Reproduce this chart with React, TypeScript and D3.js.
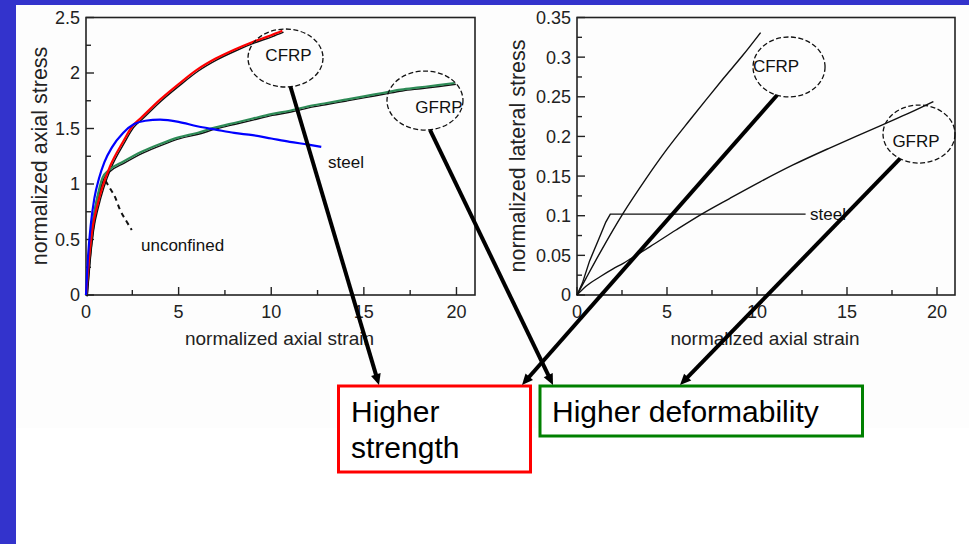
import React from "react";
import * as d3 from "d3";

const W = 969;
const H = 544;
const FONT = "'Liberation Sans', Arial, Helvetica, sans-serif";
const SLIDE_BLUE = "#3333cc";

type Pt = [number, number];

// ---- Left panel: normalized axial stress vs normalized axial strain ----
const cfrpAxial: Pt[] = [
  [0, 0], [0.15, 0.3], [0.35, 0.6], [0.6, 0.8], [0.9, 0.98], [1.3, 1.16], [2, 1.38],
  [2.5, 1.52], [3, 1.6], [4, 1.76], [5, 1.9], [6, 2.03], [7, 2.13], [8, 2.21],
  [9, 2.28], [10, 2.34], [10.6, 2.38],
];
const gfrpAxial: Pt[] = [
  [0, 0], [0.15, 0.32], [0.35, 0.62], [0.6, 0.87], [0.9, 1.06], [1.2, 1.12], [2, 1.2],
  [3, 1.29], [4, 1.36], [5, 1.42], [6, 1.46], [7, 1.51], [8, 1.55], [9, 1.59],
  [10, 1.63], [11, 1.66], [12, 1.7], [13, 1.73], [14, 1.76], [15, 1.79], [16, 1.82],
  [17, 1.85], [18, 1.87], [19, 1.89], [19.9, 1.91],
];
const steelAxial: Pt[] = [
  [0, 0], [0.1, 0.32], [0.25, 0.62], [0.45, 0.87], [0.7, 1.05], [1, 1.2], [1.4, 1.33],
  [2, 1.46], [2.6, 1.54], [3.2, 1.57], [4, 1.58], [5, 1.56], [6, 1.52], [7, 1.49],
  [8, 1.46], [9, 1.44], [10, 1.41], [11, 1.38], [12, 1.355], [12.7, 1.335],
];
const unconfinedRise: Pt[] = [[0, 0], [0.2, 0.42], [0.5, 0.8], [0.8, 0.98], [1.05, 1.03]];
const unconfinedFall: Pt[] = [[1.05, 1.03], [1.3, 0.96], [1.56, 0.886], [1.83, 0.77], [2.2, 0.66], [2.47, 0.585]];

// ---- Right panel: normalized lateral stress vs normalized axial strain ----
const cfrpLateral: Pt[] = [
  [0, 0], [0.5, 0.021], [1.37, 0.057], [2.56, 0.103], [3.78, 0.145], [5, 0.184],
  [6.28, 0.221], [7.2, 0.247], [8.13, 0.273], [9.2, 0.302], [10.2, 0.331],
];
const gfrpLateral: Pt[] = [
  [0, 0], [0.5, 0.011], [1.28, 0.023], [2, 0.033], [2.57, 0.04], [3, 0.046], [4.06, 0.061],
  [5.5, 0.082], [7, 0.103], [8.5, 0.122], [10.2, 0.143], [12, 0.164], [14, 0.185],
  [15.5, 0.2], [17, 0.215], [18.5, 0.23], [19.8, 0.244],
];
const steelLateral: Pt[] = [
  [0, 0], [0.3, 0.015], [0.7, 0.043], [1.2, 0.07], [1.6, 0.092], [1.85, 0.102], [12.7, 0.102],
];

const strainTicks = [0, 5, 10, 15, 20];
const axialStressTicks = [0, 0.5, 1, 1.5, 2, 2.5];
const lateralStressTicks = [0, 0.05, 0.1, 0.15, 0.2, 0.25, 0.3, 0.35];

// Frame placement of the two panels
const leftX = d3.scaleLinear().domain([0, 21]).range([86, 475]);
const leftY = d3.scaleLinear().domain([0, 2.5]).range([295, 17.5]);
const rightX = d3.scaleLinear().domain([0, 21]).range([577, 955]);
const rightY = d3.scaleLinear().domain([0, 0.35]).range([295, 17.5]);

// Dashed call-out ellipses, centred in each panel's data space
type Callout = { label: string; cx: number; cy: number; rx: number; ry: number; tx: number; ty: number; from: number };
const leftCallouts: Callout[] = [
  { label: "CFRP", cx: 10.77, cy: 2.135, rx: 37.5, ry: 29, tx: 3, ty: 3, from: 5 },
  { label: "GFRP", cx: 18.3, cy: 1.752, rx: 38, ry: 29.5, tx: 14, ty: 12, from: 5 },
];
const rightCallouts: Callout[] = [
  { label: "CFRP", cx: 11.78, cy: 0.2876, rx: 36, ry: 30, tx: -13, ty: 5, from: -12 },
  { label: "GFRP", cx: 19.0, cy: 0.203, rx: 36, ry: 29, tx: -3, ty: 13, from: -19 },
];

// Conclusion boxes (page layout)
const strengthBox = { x: 338.5, y: 386, w: 192, h: 86, color: "#ff0000", lines: ["Higher", "strength"] };
const deformBox = { x: 540, y: 386, w: 322.5, h: 50, color: "#008000", lines: ["Higher deformability"] };

function Axes({ x, y, yTicks, yMinor, fmt, yTitle, yTitleX }: any) {
  const [x0, x1] = x.range();
  const [y0, y1] = y.range();
  const xMinor = d3.range(0, 21, 2.5);
  const yMin = d3.range(0, y.domain()[1] + 1e-9, yMinor);
  return (
    <g>
      <rect x={x0} y={y1} width={x1 - x0} height={y0 - y1} fill="none" stroke="#222" strokeWidth={1.6} />
      {xMinor.map((v: number) => {
        const major = Math.abs(v % 5) < 1e-9;
        return <line key={"xm" + v} x1={x(v)} x2={x(v)} y1={y0} y2={y0 - (major ? 8 : 5)} stroke="#222" strokeWidth={1.4} />;
      })}
      {yMin.map((v: number, i: number) => {
        const major = i % 2 === 0;
        return <line key={"ym" + i} x1={x0} x2={x0 + (major ? 8 : 5)} y1={y(v)} y2={y(v)} stroke="#222" strokeWidth={1.4} />;
      })}
      {strainTicks.map((v) => (
        <text key={"xt" + v} x={x(v)} y={318} textAnchor="middle" fontSize={18} fill="#222" fontFamily={FONT}>{v}</text>
      ))}
      {yTicks.map((v: number) => (
        <text key={"yt" + v} x={x0 - 6} y={y(v)} dy="0.36em" textAnchor="end" fontSize={18} fill="#222" fontFamily={FONT}>{fmt(v)}</text>
      ))}
      <text x={(x0 + x1) / 2 - 1} y={345} textAnchor="middle" fontSize={19} fill="#222" fontFamily={FONT}>normalized axial strain</text>
      <text transform={`translate(${yTitleX},156) rotate(-90)`} textAnchor="middle" fontSize={21.5} fill="#222" fontFamily={FONT}>{yTitle}</text>
    </g>
  );
}

function Ellipses({ items, x, y }: { items: Callout[]; x: any; y: any }) {
  return (
    <g>
      {items.map((c) => (
        <g key={c.label}>
          <ellipse cx={x(c.cx)} cy={y(c.cy)} rx={c.rx} ry={c.ry} fill="none" stroke="#111" strokeWidth={1.3} strokeDasharray="5 2.5" />
          <text x={x(c.cx) + c.tx} y={y(c.cy) + c.ty} textAnchor="middle" fontSize={17} fill="#111" fontFamily={FONT}>{c.label}</text>
        </g>
      ))}
    </g>
  );
}

function calloutFoot(c: Callout, x: any, y: any): Pt {
  const px = x(c.cx) + c.from;
  const k = 1 - (c.from / c.rx) ** 2;
  return [px, y(c.cy) + c.ry * Math.sqrt(Math.max(0, k))];
}

function Arrow({ from, to }: { from: Pt; to: Pt }) {
  const [fx, fy] = from;
  const [tx, ty] = to;
  const len = Math.hypot(tx - fx, ty - fy);
  const ux = (tx - fx) / len;
  const uy = (ty - fy) / len;
  const head = 11;
  const half = 5;
  const bx = tx - ux * head;
  const by = ty - uy * head;
  const tri = `M${tx},${ty} L${bx - uy * half},${by + ux * half} L${bx + uy * half},${by - ux * half} Z`;
  return (
    <g>
      <line x1={fx} y1={fy} x2={bx + ux * 1} y2={by + uy * 1} stroke="#000" strokeWidth={4} />
      <path d={tri} fill="#000" />
    </g>
  );
}

export default function App() {
  const lineL = d3.line<Pt>().x((d) => leftX(d[0])).y((d) => leftY(d[1])).curve(d3.curveMonotoneX);
  const lineR = d3.line<Pt>().x((d) => rightX(d[0])).y((d) => rightY(d[1])).curve(d3.curveMonotoneX);
  const lineRLinear = d3.line<Pt>().x((d) => rightX(d[0])).y((d) => rightY(d[1]));

  const lc = leftCallouts.map((c) => calloutFoot(c, leftX, leftY));
  const rc = rightCallouts.map((c) => calloutFoot(c, rightX, rightY));
  const strengthTop = strengthBox.y - 1;
  const deformTop = deformBox.y - 1;

  return (
    <svg width={W} height={H} style={{ position: "absolute", left: 0, top: 0, display: "block" }}>
      <rect width={W} height={H} fill="#ffffff" />
      <rect x={16} y={5} width={W - 16} height={423} fill="#fdfdfd" />
      <rect x={0} y={0} width={W} height={5} fill={SLIDE_BLUE} />
      <rect x={0} y={0} width={16} height={H} fill={SLIDE_BLUE} />

      {/* left panel */}
      <Axes x={leftX} y={leftY} yTicks={axialStressTicks} yMinor={0.25} fmt={(v: number) => String(v)} yTitle="normalized axial stress" yTitleX={47} />
      <g transform="translate(1.2,1.3)" fill="none" stroke="#111" strokeWidth={1.4}>
        <path d={lineL(cfrpAxial) || ""} />
        <path d={lineL(gfrpAxial) || ""} />
      </g>
      <path d={lineL(unconfinedRise) || ""} fill="none" stroke="#111" strokeWidth={1.3} />
      <path d={lineL(unconfinedFall) || ""} fill="none" stroke="#111" strokeWidth={2} strokeDasharray="5 4" />
      <path d={lineL(gfrpAxial) || ""} fill="none" stroke="#2e8b57" strokeWidth={2.2} />
      <path d={lineL(cfrpAxial) || ""} fill="none" stroke="#ff0000" strokeWidth={2.2} />
      <path d={lineL(steelAxial) || ""} fill="none" stroke="#0000ff" strokeWidth={2.2} />
      <text x={141} y={251} fontSize={17} fill="#111" fontFamily={FONT}>unconfined</text>
      <text x={328} y={168} fontSize={17} fill="#111" fontFamily={FONT}>steel</text>
      <Ellipses items={leftCallouts} x={leftX} y={leftY} />

      {/* right panel */}
      <Axes x={rightX} y={rightY} yTicks={lateralStressTicks} yMinor={0.025} fmt={(v: number) => String(v)} yTitle="normalized lateral stress" yTitleX={525} />
      <g fill="none" stroke="#111" strokeWidth={1.4}>
        <path d={lineR(cfrpLateral) || ""} />
        <path d={lineR(gfrpLateral) || ""} />
        <path d={lineRLinear(steelLateral) || ""} />
      </g>
      <text x={810} y={220} fontSize={17} fill="#111" fontFamily={FONT}>steel</text>
      <Ellipses items={rightCallouts} x={rightX} y={rightY} />

      {/* conclusion boxes */}
      <rect x={strengthBox.x} y={strengthBox.y} width={strengthBox.w} height={strengthBox.h} fill="#ffffff" stroke={strengthBox.color} strokeWidth={3} />
      {strengthBox.lines.map((t, i) => (
        <text key={t} x={351} y={421.7 + i * 36.5} fontSize={30} fill="#000" fontFamily={FONT}>{t}</text>
      ))}
      <rect x={deformBox.x} y={deformBox.y} width={deformBox.w} height={deformBox.h} fill="#ffffff" stroke={deformBox.color} strokeWidth={3} />
      {deformBox.lines.map((t) => (
        <text key={t} x={552} y={421.7} fontSize={30} fill="#000" fontFamily={FONT}>{t}</text>
      ))}

      {/* arrows from each call-out to its conclusion */}
      <Arrow from={lc[0]} to={[379, strengthTop]} />
      <Arrow from={lc[1]} to={[553, deformTop]} />
      <Arrow from={rc[0]} to={[522, strengthTop]} />
      <Arrow from={rc[1]} to={[680, deformTop]} />
    </svg>
  );
}
